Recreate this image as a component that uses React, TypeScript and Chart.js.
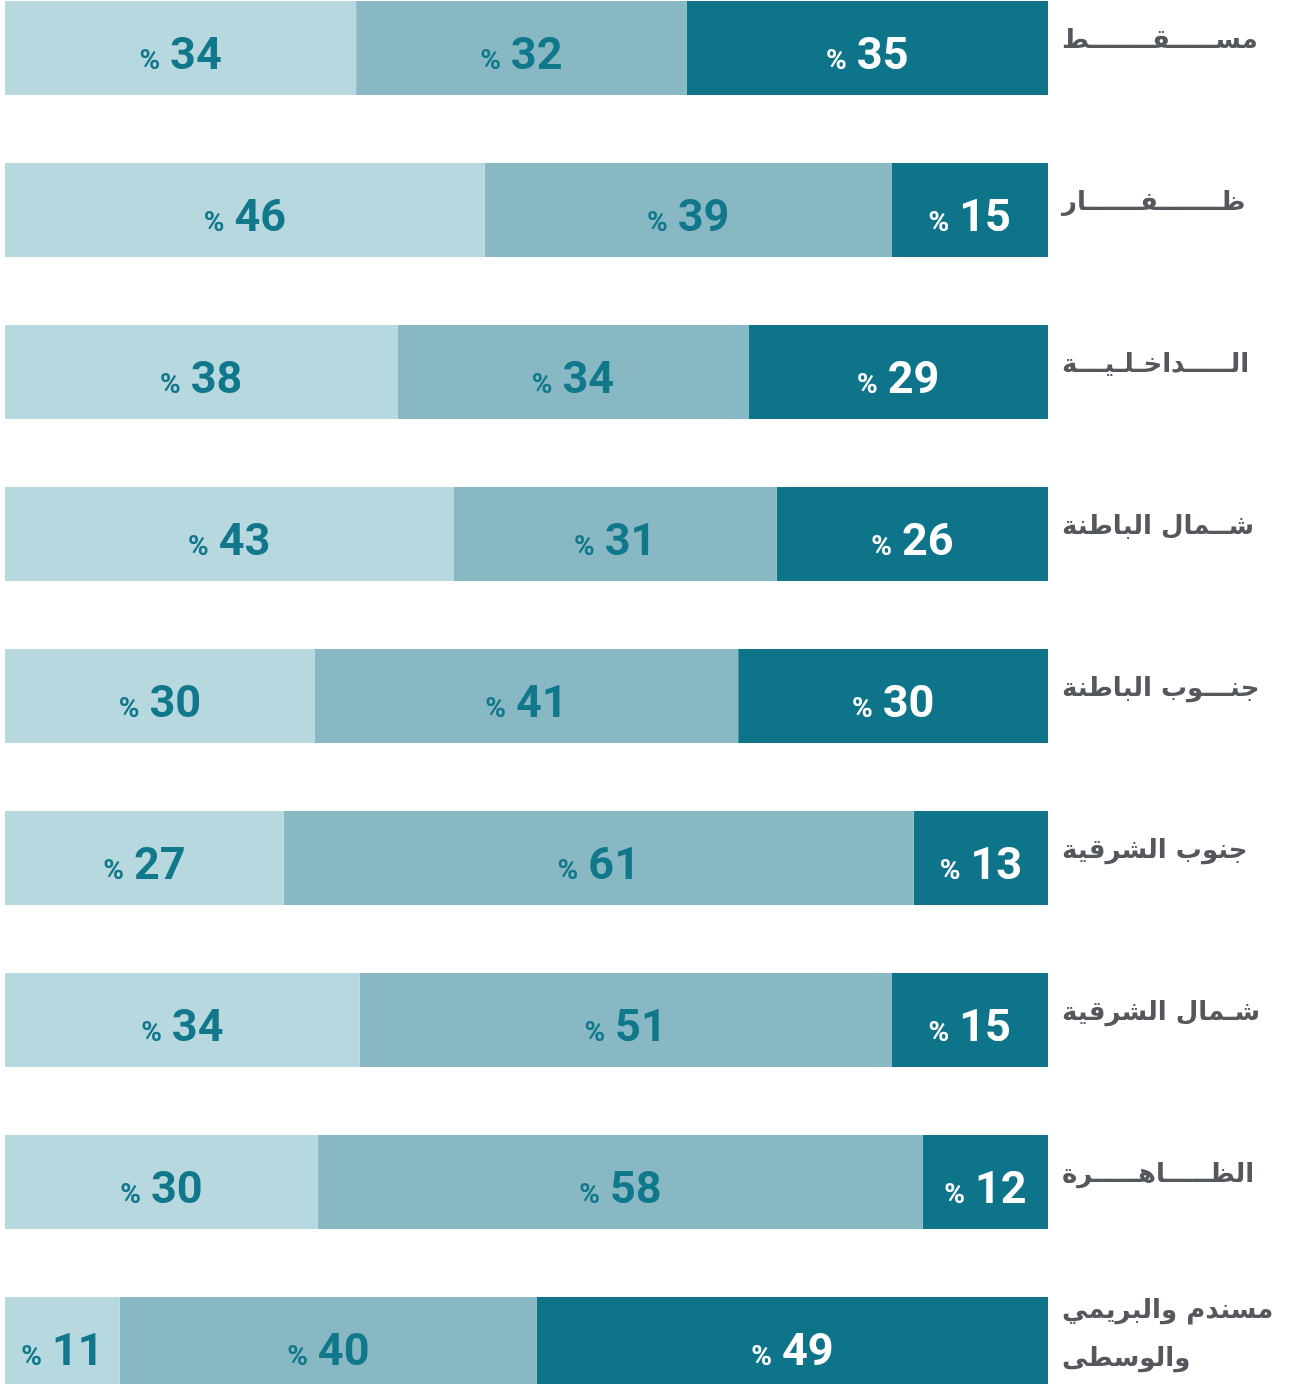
import React, { useEffect, useRef } from "react";
import { Chart, registerables } from "chart.js";

Chart.register(...registerables);

const categories: (string | string[])[] = [
  "مســـــقـــــــط",
  "ظـــــــفــــــار",
  "الـــــداخـلـيـــة",
  "شــمال الباطنة",
  "جنـــوب الباطنة",
  "جنوب الشرقية",
  "شـمال الشرقية",
  "الظـــــاهـــــرة",
  ["مسندم والبريمي", "والوسطى"],
];

const lightValues = [34, 46, 38, 43, 30, 27, 34, 30, 11];
const midValues = [32, 39, 34, 31, 41, 61, 51, 58, 40];
const darkValues = [35, 15, 29, 26, 30, 13, 15, 12, 49];

const seriesColors = ["#b7d8df", "#87b8c4", "#0e748a"];
const labelColors = ["#11778b", "#11778b", "#ffffff"];

const rowSums = lightValues.map((v, i) => v + midValues[i] + darkValues[i]);
const norm = (arr: number[]) => arr.map((v, i) => (v / rowSums[i]) * 100);

const rawSeries = [lightValues, midValues, darkValues];

const labelsPlugin = {
  id: "customLabels",
  afterDatasetsDraw(chart: any) {
    const ctx = chart.ctx;
    ctx.save();
    chart.data.datasets.forEach((ds: any, di: number) => {
      const meta = chart.getDatasetMeta(di);
      meta.data.forEach((el: any, i: number) => {
        const left = Math.min(el.x, el.base);
        const right = Math.max(el.x, el.base);
        const cx = (left + right) / 2;
        const cy = el.y;
        const num = String(rawSeries[di][i]);
        ctx.font = "bold 28px Roboto";
        const pw = ctx.measureText("%").width;
        ctx.font = "bold 45px Roboto";
        const nw = ctx.measureText(num).width;
        const gap = 10;
        const total = pw + gap + nw;
        const x0 = cx - total / 2;
        const baseY = cy + 21;
        ctx.fillStyle = labelColors[di];
        ctx.textAlign = "left";
        ctx.textBaseline = "alphabetic";
        ctx.font = "bold 28px Roboto";
        ctx.fillText("%", x0, baseY);
        ctx.font = "bold 45px Roboto";
        ctx.fillText(num, x0 + pw + gap, baseY);
      });
    });
    const meta0 = chart.getDatasetMeta(0);
    ctx.fillStyle = "#54585c";
    ctx.font = "bold 26px 'DejaVu Sans'";
    ctx.textAlign = "left";
    ctx.textBaseline = "alphabetic";
    (ctx as any).direction = "rtl";
    meta0.data.forEach((el: any, i: number) => {
      const lab = categories[i];
      const x = chart.chartArea.right + 14;
      if (Array.isArray(lab)) {
        ctx.fillText(lab[0], x, el.y - 26);
        ctx.fillText(lab[1], x, el.y + 22);
      } else {
        ctx.fillText(lab, x, el.y);
      }
    });
    ctx.restore();
  },
};

export default function App() {
  const ref = useRef<HTMLCanvasElement | null>(null);
  useEffect(() => {
    if (!ref.current) return;
    const chart = new Chart(ref.current, {
      type: "bar",
      data: {
        labels: categories.map((c) => (Array.isArray(c) ? c.join(" ") : c)),
        datasets: rawSeries.map((s, i) => ({
          label: "s" + i,
          data: norm(s),
          backgroundColor: seriesColors[i],
          borderWidth: 0,
          barPercentage: 0.58,
          categoryPercentage: 1,
        })),
      },
      options: {
        indexAxis: "y",
        animation: false,
        responsive: false,
        maintainAspectRatio: false,
        layout: { padding: { left: 5, right: 263, top: 0, bottom: 0 } },
        plugins: {
          legend: { display: false },
          tooltip: { enabled: false },
        },
        scales: {
          x: { stacked: true, min: 0, max: 100, display: false },
          y: { stacked: true, display: false, offset: true },
        },
      },
      plugins: [labelsPlugin],
    });
    return () => chart.destroy();
  }, []);
  return (
    <div
      style={{
        position: "absolute",
        left: 0,
        top: 0,
        width: 1311,
        height: 1384,
        overflow: "hidden",
        background: "#ffffff",
      }}
    >
      <canvas
        ref={ref}
        width={1311}
        height={1458}
        style={{ position: "absolute", left: 0, top: -33, width: 1311, height: 1458 }}
      />
    </div>
  );
}
